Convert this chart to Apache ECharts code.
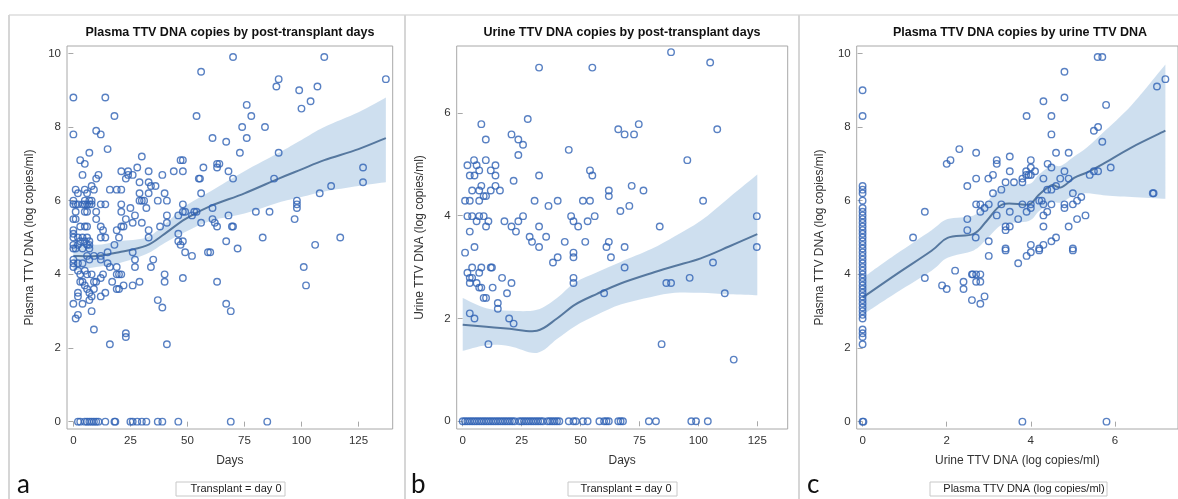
<!DOCTYPE html>
<html><head><meta charset="utf-8">
<script src="https://cdn.jsdelivr.net/npm/echarts@6/dist/echarts.min.js"></script>
<style>html,body{margin:0;padding:0;background:#fff}#c{width:1178px;height:499px}</style>
</head><body><div id="c"></div>
<script>
// ---------- DATA ----------
const titles = ['Plasma TTV DNA copies by post-transplant days','Urine TTV DNA copies by post-transplant days','Plasma TTV DNA copies by urine TTV DNA'];
const xNames = ['Days','Days','Urine TTV DNA (log copies/ml)'];
const yNames = ['Plasma TTV DNA (log copies/ml)','Urine TTV DNA (log copies/ml)','Plasma TTV DNA (log copies/ml)'];
const legendTexts = ['Transplant = day 0','Transplant = day 0','Plasma TTV DNA (log copies/ml)'];
const panelLetters = ['a','b','c'];
const daysTicks = [0,25,50,75,100,125];
const plasmaTicks = [0,2,4,6,8,10];
const urineTicks = [0,2,4,6];
const urineLogTicks = [0,2,4,6];

// Panel a: [day, plasma log copies]
const plasmaByDays = [
[0,8.8],[0,7.8],[14,8.8],[18,8.3],[10,7.9],[12,7.8],[15,7.4],[7,7.3],[3,7.1],[5,7.0],[4,6.7],[11,6.7],[10,6.6],[8,6.4],[9,6.3],[1,6.3],[2,6.2],[6,6.2],[5,6.3],[16,6.3],[19,6.3],[21,6.3],
[30,7.2],[21,6.8],[24,6.8],[24,6.7],[26,6.7],[23,6.6],[28,6.9],[33,6.8],[29,6.5],[33,6.5],[34,6.4],[36,6.4],[29,6.2],[33,6.2],[29,6.0],[30,6.0],[31,6.0],[37,6.0],[41,6.0],[39,6.7],[40,6.2],[44,6.8],
[47,7.1],[48,7.1],[48,6.8],[55,6.6],[55.5,6.6],[56,6.2],[57,6.9],[54,8.3],[56,9.5],[61,7.7],[63,7.0],[64,7.0],[63,6.9],[68,6.8],[70,6.6],[67,7.6],[70,9.9],[73,7.3],[74,8.0],[76,8.6],[76,7.7],[78,8.3],[84,8.0],
[89,9.1],[90,9.3],[90,7.3],[88,6.6],[99,9.0],[100,8.5],[104,8.7],[107,9.1],[110,9.9],[108,6.2],[113,6.4],[127,6.9],[127,6.5],[137,9.3],
[80,5.7],[86,5.7],[98,6.0],[98,5.9],[98,5.8],[97,5.5],[83,5.0],[106,4.8],[117,5.0],[68,5.6],[69.5,5.3],[70,5.3],[67,4.9],[72,4.7],
[48,5.9],[48,5.7],[49,5.7],[46,5.6],[52,5.6],[53,5.7],[54,5.7],[56,5.4],[61,5.8],[61,5.5],[62,5.4],[63,5.3],[46,5.1],[46,4.9],[48,4.9],[47,4.8],[60,4.6],
[41,5.6],[41,5.4],[38,5.3],[33,5.2],[33,5.0],[32,5.8],[30,5.4],[27,5.6],[25,5.8],[21,5.9],[21,5.7],[21,5.3],[22,5.3],[23,5.5],[19,5.2],[20,5.0],[18,4.8],[26,5.4],[14,5.9],[12,5.9],[12,5.3],[13,5.2],[12,5.0],[14,5.0],[10,5.5],[10,5.7],
[0,5.9],[0,6.0],[1,5.9],[2,5.9],[4,5.9],[5,5.9],[6,5.9],[7,5.9],[8,5.9],[5,6.0],[7,6.0],[8,6.0],[1,5.7],[5,5.7],[6,5.7],[0,5.5],[1,5.5],[3,5.3],[5,5.3],[6,5.3],[0,5.2],[0,5.1],[0,5.0],[2,5.0],[4,5.0],[6,5.0],[3,4.9],[5,4.9],[7,4.9],[0,4.8],[2,4.8],[6,4.8],[7,4.8],[0,4.7],[1,4.7],[4,4.7],[7,4.7],
[0,4.4],[0,4.3],[0,4.2],[2,4.3],[4,4.3],[7,4.4],[6,4.5],[9,4.5],[12,4.5],[12,4.4],[15,4.6],[26,4.6],[27,4.4],[35,4.4],[34,4.2],[27,4.2],[15,4.3],[16,4.2],[19,4.2],[19,4.0],[20,4.0],[21,4.0],[13,4.0],[12,3.9],[10,3.8],[9,3.8],[8,4.0],[6,4.0],[5,4.1],[3,4.0],[2,4.1],[3,3.8],[4,3.8],[5,3.7],[6,3.6],[7,3.5],[2,3.5],[2,3.4],[8,3.4],[9,3.6],[12,3.4],[14,3.5],[17,3.8],[19,3.6],[20,3.6],[22,3.7],[26,3.7],[29,3.8],[40,4.0],[40,3.8],[48,3.9],[63,3.8],[101,4.2],[102,3.7],
[37,3.3],[39,3.1],[67,3.2],[69,3.0],[7,3.3],[4,3.2],[0,3.2],[2,2.9],[1,2.8],[8,3.0],[9,2.5],[16,2.1],[23,2.4],[23,2.3],[41,2.1],[49,4.6],[52,4.5],[59,4.6],
[2,0],[3,0],[5,0],[6,0],[7,0],[8,0],[9,0],[10,0],[11,0],[14,0],[18,0],[18.4,0],[25,0],[26,0],[28,0],[30,0],[32,0],[37,0],[39,0],[46,0],[69,0],[85,0]
];
const plasmaDaysFitX = [0,10,20,32,40,49,60,75,90,100,110,125,137];
const plasmaDaysFit  = [4.5,4.5,4.6,4.78,5.1,5.5,5.85,6.2,6.6,6.85,7.1,7.4,7.7];
const plasmaDaysLo   = [4.1,4.2,4.3,4.55,4.85,5.15,5.45,5.65,5.95,6.1,6.25,6.4,6.5];
const plasmaDaysHi   = [4.9,4.8,4.9,5.0,5.35,5.85,6.25,6.8,7.3,7.65,8.0,8.4,8.8];

// Panel b: [day, urine log copies]
const urineByDays = [
[88.4,7.18],[105,6.98],[32.4,6.88],[55,6.88],[27.6,5.88],[7.9,5.78],[74.7,5.78],[66,5.68],[108,5.68],[68.7,5.58],[72.7,5.58],[20.7,5.58],[23.6,5.48],[9.8,5.48],[25.6,5.38],[23.6,5.18],[45,5.28],[95.3,5.08],[4.8,5.08],[9.8,5.08],
[2,4.98],[5.9,4.98],[13.9,4.98],[7,4.88],[11.9,4.88],[54,4.88],[3,4.78],[5,4.78],[13.9,4.78],[32.4,4.78],[55,4.78],[21.6,4.68],[7.9,4.58],[13.9,4.58],[71.7,4.58],[4,4.49],[7,4.49],[11.9,4.49],[15.8,4.49],[62,4.49],[76.7,4.49],[8.9,4.38],[9.9,4.38],[62,4.38],
[1,4.29],[3,4.29],[7,4.29],[30.5,4.29],[40.3,4.29],[51,4.29],[54,4.29],[102,4.29],[36.4,4.19],[70.7,4.19],[66.9,4.09],[2,3.99],[4,3.99],[7,3.99],[8.9,3.99],[25.6,3.99],[46,3.99],[56,3.99],[124.8,3.99],
[5.9,3.89],[10.9,3.89],[17.7,3.89],[23.6,3.89],[47,3.89],[53,3.89],[3,3.69],[9.9,3.79],[20.7,3.79],[22.6,3.69],[32.4,3.79],[49,3.79],[83.6,3.79],[28.4,3.59],[35.4,3.59],[29.4,3.49],[43.3,3.49],[52,3.49],[62,3.49],[5,3.39],[32.4,3.39],[61,3.39],[68.7,3.39],[124.8,3.39],
[1,3.28],[38.3,3.09],[40.3,3.19],[47,3.28],[47,3.19],[62.9,3.19],[2,2.89],[4,2.99],[7.9,2.99],[11.9,2.99],[12.4,2.99],[3,2.79],[4,2.79],[7,2.89],[3,2.69],[5.9,2.69],[7,2.6],[7.9,2.6],[12.7,2.6],[16.7,2.79],[20.7,2.69],[18.8,2.49],[8.9,2.4],[9.9,2.4],[14.9,2.3],[14.9,2.19],[3,2.1],[5,2.0],[19.7,2.0],[21.6,1.9],[10.9,1.5],
[47,2.79],[47,2.69],[60,2.49],[68.7,2.99],[86.4,2.69],[88.4,2.69],[96.3,2.79],[106.2,3.09],[111.2,2.49],[84.4,1.5],[115,1.2],
[0,0],[1,0],[2,0],[3,0],[4,0],[5,0],[6,0],[7,0],[8,0],[9,0],[10,0],[11,0],[12,0],[13,0],[14,0],[15,0],[16,0],[17,0],[18,0],[19,0],[20,0],[21,0],[22,0],[24,0],[25,0],[26,0],[27,0],[28,0],[29,0],[30,0],[31,0],[32,0],[33,0],[34,0],[36,0],[37,0],[38,0],[39,0],[40,0],[41,0],[45,0],[47,0],[48,0],[51,0],[53,0],[58,0],[60,0],[61,0],[62,0],[66,0],[67,0],[68,0],[79,0],[82,0],[97,0],[99,0],[104,0]
];
const urineDaysFitX = [0,10,20,31.5,40,47.7,57,67,80,90,101,113,125];
const urineDaysFit  = [1.88,1.84,1.8,1.76,2.0,2.27,2.48,2.68,2.88,3.02,3.17,3.4,3.64];
const urineDaysLo   = [1.37,1.48,1.46,1.33,1.6,1.85,2.07,2.27,2.42,2.5,2.5,2.47,2.45];
const urineDaysHi   = [2.4,2.2,2.15,2.17,2.4,2.7,2.9,3.1,3.35,3.6,3.9,4.35,4.8];

// Panel c: [urine log copies, plasma log copies]
const plasmaByUrine = [
[0,9.0],[0,8.3],[0,6.4],[0,6.3],[0,6.2],[0,6.0],[0,5.8],[0,5.7],[0,5.6],[0,5.5],[0,5.4],[0,5.3],[0,5.2],[0,5.1],[0,5.0],[0,4.9],[0,4.8],[0,4.7],[0,4.6],[0,4.5],[0,4.4],[0,4.3],[0,4.2],[0,4.1],[0,4.0],[0,3.9],[0,3.8],[0,3.7],[0,3.6],[0,3.5],[0,3.4],[0,3.3],[0,3.2],[0,3.1],[0,3.0],[0,2.9],[0,2.8],[0,2.5],[0,2.4],[0,2.3],[0,2.1],[0,0],[0.02,0],
[5.59,9.9],[5.7,9.9],[4.8,9.5],[4.8,8.8],[4.3,8.7],[3.9,8.3],[4.49,8.3],[5.79,8.6],[7.2,9.3],[7.0,9.1],[5.6,8.0],[5.5,7.9],[4.49,7.8],[5.7,7.6],
[2.3,7.4],[2.09,7.1],[2.0,7.0],[2.7,7.3],[3.19,7.1],[3.19,7.0],[3.5,7.2],[4.0,7.1],[4.0,6.9],[4.0,6.7],[4.6,7.3],[4.9,7.3],[4.4,7.0],[4.49,6.9],[5.9,6.9],[5.5,6.8],[5.6,6.8],[5.4,6.7],
[2.7,6.6],[2.49,6.4],[2.99,6.6],[3.1,6.7],[3.5,6.8],[3.4,6.5],[3.6,6.5],[3.8,6.5],[3.8,6.6],[3.89,6.8],[3.89,6.7],[3.95,6.7],[4.1,6.8],[4.3,6.6],[4.7,6.6],[4.9,6.6],[4.8,6.8],[4.6,6.4],[4.49,6.3],[4.39,6.3],
[6.9,6.2],[6.92,6.2],[5.0,6.2],[5.2,6.1],[5.1,6.0],[5.0,5.9],[4.8,5.9],[4.8,5.8],[4.49,5.9],[4.26,6.0],[4.3,5.9],[4.2,6.0],[3.1,6.2],[3.3,6.3],[2.7,5.9],[2.8,5.9],[3.0,5.9],[3.3,5.9],[3.8,5.9],[4.0,5.9],[4.0,5.8],
[2.8,5.7],[2.9,5.8],[1.48,5.7],[3.19,5.6],[3.5,5.7],[3.9,5.7],[4.39,5.7],[4.3,5.6],[2.49,5.5],[3.7,5.5],[5.1,5.5],[5.3,5.6],[2.49,5.2],[3.4,5.3],[3.4,5.2],[3.5,5.3],[4.3,5.3],[4.9,5.3],[2.69,5.0],[1.2,5.0],[3.0,4.9],[4.6,5.0],[4.49,4.9],[3.4,4.7],[4.0,4.8],[4.2,4.7],[4.3,4.8],[5.0,4.7],
[1.48,3.9],[1.89,3.7],[2.0,3.6],[2.2,4.1],[2.4,3.8],[2.4,3.6],[2.6,4.0],[2.62,4.0],[2.7,4.0],[2.8,4.0],[2.7,3.8],[2.8,3.8],[2.6,3.3],[2.8,3.2],[2.9,3.4],[3.0,4.5],[3.7,4.3],[3.9,4.5],[4.0,4.6],[3.4,4.65],[4.2,4.65],[5.0,4.65],
[3.8,0],[5.8,0]
];
const plasmaUrineFitX = [0,0.8,1.64,2.02,2.64,2.95,3.33,3.95,4.18,4.49,4.72,5.03,5.34,5.72,6.4,7.2];
const plasmaUrineFit  = [3.37,4.0,4.64,4.99,5.1,5.45,5.9,5.9,6.15,6.42,6.36,6.62,6.77,7.0,7.45,7.9];
const plasmaUrineLo   = [2.9,3.5,4.1,4.45,4.65,4.95,5.35,5.45,5.7,5.95,5.95,6.15,6.2,6.15,6.1,6.05];
const plasmaUrineHi   = [3.9,4.55,5.2,5.5,5.6,5.95,6.4,6.45,6.7,6.95,6.95,7.2,7.45,7.85,8.6,9.7];

// ---------- CHART ----------
const FONT = 'Liberation Sans, Arial, sans-serif';
const ptColor = '#2f62b4';
const lineColor = '#56789f';
const bandColor = 'rgba(176,204,229,0.62)';
const axisColor = '#a8a8a8';
const grids = [
  {left:67, top:46, width:325.7, height:383},
  {left:456.7, top:46, width:331, height:383},
  {left:856.7, top:46, width:330, height:383}
];
const xr = [[-2.8,140],[-2.55,137.9],[-0.14,7.5]];
const yr = [[-0.2,10.2],[-0.15,7.3],[-0.2,10.2]];
const xt = [daysTicks, daysTicks, urineLogTicks];
const yt = [plasmaTicks, urineTicks, plasmaTicks];
const scat = [plasmaByDays, urineByDays, plasmaByUrine];
const fits = [[plasmaDaysFitX,plasmaDaysFit,plasmaDaysLo,plasmaDaysHi],[urineDaysFitX,urineDaysFit,urineDaysLo,urineDaysHi],[plasmaUrineFitX,plasmaUrineFit,plasmaUrineLo,plasmaUrineHi]];

// Catmull-Rom smooth path through pixel points (from api.coord)
function crPath(pts, move){
  let d = (move ? 'M' : 'L') + pts[0][0] + ' ' + pts[0][1];
  for (let i=0;i<pts.length-1;i++){
    const p0 = pts[Math.max(i-1,0)], p1 = pts[i], p2 = pts[i+1], p3 = pts[Math.min(i+2,pts.length-1)];
    const c1 = [p1[0]+(p2[0]-p0[0])/6, p1[1]+(p2[1]-p0[1])/6];
    const c2 = [p2[0]-(p3[0]-p1[0])/6, p2[1]-(p3[1]-p1[1])/6];
    d += ' C'+c1[0]+' '+c1[1]+' '+c2[0]+' '+c2[1]+' '+p2[0]+' '+p2[1];
  }
  return d;
}

const axisCommon = (ticks) => ({
  axisLine:{show:false},
  axisTick:{show:true, length:5, lineStyle:{color:axisColor}, customValues:ticks},
  axisLabel:{color:'#333', fontFamily:FONT, fontSize:11.5, customValues:ticks, margin:6},
  splitLine:{show:false},
  nameTextStyle:{color:'#333', fontFamily:FONT, fontSize:12}
});

const xAxis = [], yAxis = [], series = [], graphic = [];
for (let i=0;i<3;i++){
  xAxis.push(Object.assign({type:'value', gridIndex:i, min:xr[i][0], max:xr[i][1], name:xNames[i], nameLocation:'middle', nameGap:26}, axisCommon(xt[i])));
  yAxis.push(Object.assign({type:'value', gridIndex:i, min:yr[i][0], max:yr[i][1], name:yNames[i], nameLocation:'middle', nameGap:31}, axisCommon(yt[i])));
  const f = fits[i];
  series.push({
    type:'custom', xAxisIndex:i, yAxisIndex:i, silent:true, z:1,
    data:[0],
    renderItem:(params, api)=>{
      const up = f[0].map((x,k)=>api.coord([x, f[3][k]]));
      const lo = f[0].map((x,k)=>api.coord([x, f[2][k]])).reverse();
      const d = crPath(up, true) + ' ' + crPath(lo, false) + ' Z';
      return {type:'path', shape:{pathData:d}, style:{fill:bandColor}};
    }
  });
  series.push({
    type:'custom', xAxisIndex:i, yAxisIndex:i, silent:true, z:2,
    data:[0],
    renderItem:(params, api)=>{
      const p = f[0].map((x,k)=>api.coord([x, f[1][k]]));
      return {type:'path', shape:{pathData:crPath(p, true)}, style:{fill:null, stroke:lineColor, lineWidth:2}};
    }
  });
  series.push({
    type:'scatter', xAxisIndex:i, yAxisIndex:i, z:3, symbol:'circle', symbolSize:6.5,
    itemStyle:{color:'rgba(0,0,0,0)', borderColor:ptColor, borderWidth:1.4},
    data:scat[i]
  });
}
// panel frames
graphic.push({type:'line', shape:{x1:9,y1:15,x2:1178,y2:15}, style:{stroke:'#dcdcdc', lineWidth:1.5}});
[9,405,799].forEach(x=>graphic.push({type:'line', shape:{x1:x,y1:15,x2:x,y2:499}, style:{stroke:'#d6d6d6', lineWidth:2}}));
const titleX = [230, 622, 1020];
const legBox = [[176,482,109,14],[568,482,109,14],[930,482,177,14]];
const legTextX = [236, 626, 1024];
const letterX = [17, 411, 807];
for (let i=0;i<3;i++){
  graphic.push({type:'text', x:titleX[i], y:33, style:{text:titles[i], font:'bold 12.5px '+FONT, fill:'#111', textAlign:'center', textVerticalAlign:'middle'}});
  graphic.push({type:'rect', shape:{x:legBox[i][0], y:legBox[i][1], width:legBox[i][2], height:legBox[i][3]}, style:{fill:'#fff', stroke:'#c8c8c8', lineWidth:1}});
  graphic.push({type:'text', x:legTextX[i], y:489, style:{text:legendTexts[i], font:'11px '+FONT, fill:'#222', textAlign:'center', textVerticalAlign:'middle'}});
  graphic.push({type:'text', x:letterX[i], y:485, style:{text:panelLetters[i], font:'26px Lato, "Open Sans", sans-serif', fill:'#111', textAlign:'left', textVerticalAlign:'middle'}});
}

const chart = echarts.init(document.getElementById('c'), null, {renderer:'canvas'});
chart.setOption({
  animation:false,
  backgroundColor:'#fff',
  grid: grids.map(g=>Object.assign({show:true, borderColor:axisColor, borderWidth:1, backgroundColor:'transparent'}, g)),
  xAxis, yAxis, series, graphic
});
</script></body></html>
